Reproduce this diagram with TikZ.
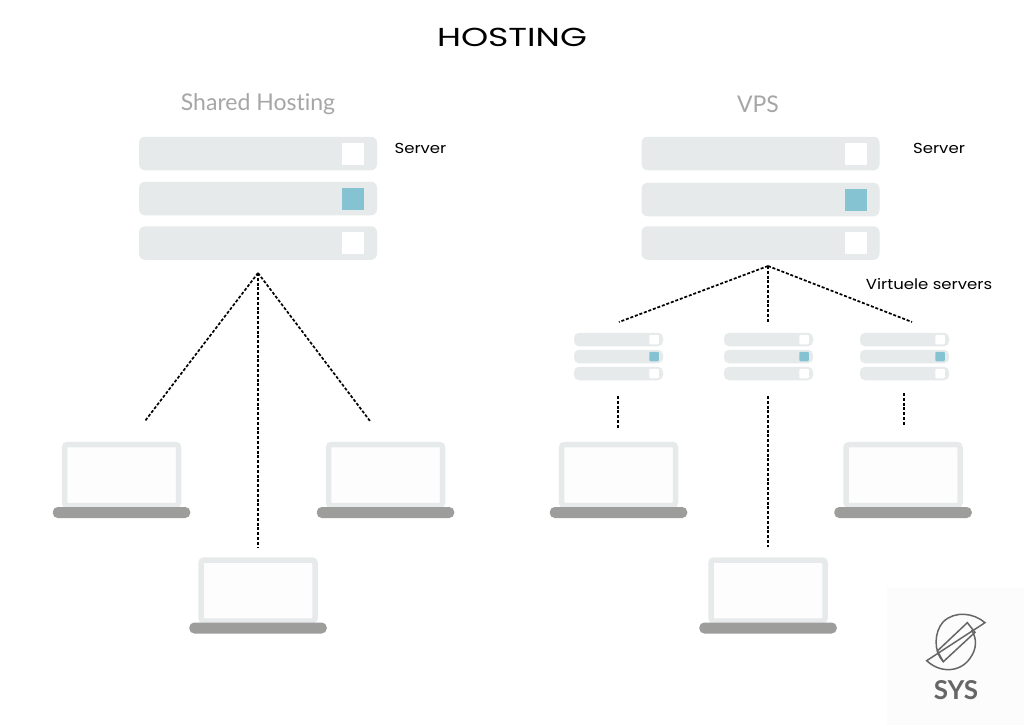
\documentclass[tikz,border=0pt]{standalone}
\usepackage{fontspec}
\setmainfont{Poppins}
\newfontfamily\latofont[Ligatures={NoCommon,NoContextual}]{Lato}
\newfontfamily\titlefont[FakeStretch=1.33]{Poppins}
\newfontfamily\labelfont[FakeStretch=1.14]{Poppins}
\definecolor{barc}{HTML}{E7EAEB}
\definecolor{ledc}{HTML}{85C3D3}
\definecolor{basec}{HTML}{9D9D9C}
\definecolor{headc}{HTML}{A6A6A6}
\definecolor{logoc}{HTML}{666666}
\definecolor{panelc}{HTML}{FCFCFC}
\definecolor{scrc}{HTML}{FDFDFD}
\tikzset{
 x=1pt,y=-1pt,
 bigbar/.style={fill=barc,draw=none,rounded corners=6pt,minimum width=238pt,minimum height=33.5pt,inner sep=0,outer sep=0,rectangle},
 bigled/.style={draw=none,minimum size=22pt,inner sep=0,outer sep=0,rectangle},
 minibar/.style={fill=barc,draw=none,rounded corners=5pt,minimum width=89pt,minimum height=13.5pt,inner sep=0,outer sep=0,rectangle},
 miniled/.style={draw=none,rounded corners=1pt,minimum size=9.5pt,inner sep=0,outer sep=0,rectangle},
 screen/.style={draw=barc,fill=scrc,line width=5.5pt,rounded corners=3pt,minimum width=114pt,minimum height=61pt,inner sep=0,outer sep=0,rectangle},
 kbd/.style={fill=basec,draw=none,rounded corners=5pt,minimum width=137.5pt,minimum height=11pt,inner sep=0,outer sep=0,rectangle},
 link/.style={draw=black,line width=1.7pt,dash pattern=on 3pt off 1.8pt},
 lbl/.style={inner sep=0,outer sep=0,text=black,font=\labelfont\fontsize{14.5}{16}\selectfont},
 head/.style={inner sep=0,outer sep=0,text=headc,font=\latofont\fontsize{23}{26}\selectfont},
}
\newcommand{\bigserver}[3]{%
 \node[bigbar] (#1a) at (#2,153.5) {};
 \node[bigbar] (#1b) at (#2,#3) {};
 \node[bigbar] (#1c) at (#2,243) {};
 \node[bigled,fill=white] (#1la) at ([xshift=-24pt]#1a.east) {};
 \node[bigled,fill=ledc] (#1lb) at ([xshift=-24pt]#1b.east) {};
 \node[bigled,fill=white] (#1lc) at ([xshift=-24pt]#1c.east) {};
}
\newcommand{\miniserver}[2]{%
 \node[minibar] (#1a) at (#2,339.5) {};
 \node[minibar] (#1b) at (#2,356.5) {};
 \node[minibar] (#1c) at (#2,373.5) {};
 \node[miniled,fill=white] (#1la) at ([xshift=-9pt]#1a.east) {};
 \node[miniled,fill=ledc] (#1lb) at ([xshift=-9pt]#1b.east) {};
 \node[miniled,fill=white] (#1lc) at ([xshift=-9pt]#1c.east) {};
}
\newcommand{\laptop}[3]{%
 \node[screen] (#1s) at (#2,#3) {};
 \node[kbd] (#1k) at (#2,#3+37.5) {};
}
\begin{document}
\begin{tikzpicture}
\useasboundingbox (0,0) rectangle (1024,725);
\fill[white] (0,0) rectangle (1024,725);

% headings
\node[inner sep=0,text=black,font=\titlefont\fontsize{26}{28}\selectfont] (title) at (512,37.5) {HOSTING};
\node[head] (shared) at (258,104.5) {Shared Hosting};
\node[head] (vps) at (758,104) {VPS};
\node[lbl] (srvl) at (420.5,148) {Server};
\node[lbl] (srvr) at (939,148) {Server};
\node[lbl] (virt) at (929,284) {Virtuele servers};

% servers
\bigserver{L}{258}{198.5}
\bigserver{R}{760.5}{199.5}
\miniserver{Ma}{618.5}
\miniserver{Mb}{768.5}
\miniserver{Mc}{904.5}

% laptops
\laptop{pa}{121.5}{475}
\laptop{pb}{385.5}{475}
\laptop{pc}{258}{590.5}
\laptop{pd}{618.5}{475}
\laptop{pe}{903}{475}
\laptop{pf}{768}{590.5}

% connector ends
\coordinate (lapex) at (258,273);
\coordinate (la) at (145,421);
\coordinate (lb) at (370,421);
\coordinate (lc) at (258,547);
\coordinate (rapex) at (768,266);
\coordinate (ra) at (619,322);
\coordinate (rb) at (768,322);
\coordinate (rc) at (912,322);
\coordinate (da1) at (618,396);
\coordinate (da2) at (618,429);
\coordinate (db1) at (768,396);
\coordinate (db2) at (768,547);
\coordinate (dc1) at (904,393);
\coordinate (dc2) at (904,426);

\draw[link] (lapex) -- (la);
\draw[link] (lapex) -- (lb);
\draw[link] (lapex) -- (lc);
\draw[link] (rapex) -- (ra);
\draw[link] (rapex) -- (rb);
\draw[link] (rapex) -- (rc);
\draw[link] (da1) -- (da2);
\draw[link] (db1) -- (db2);
\draw[link] (dc1) -- (dc2);

% logo panel
\fill[panelc] (887,588) rectangle (1024,725);
\begin{scope}[shift={(860,570)},x=0.3333pt,y=-0.3333pt,draw=logoc,line width=1.5pt,line join=miter]
 \draw (250,275) .. controls (220,245) and (222,185) .. (250,155) .. controls (285,122) and (340,128) .. (375,158) -- (200,272) .. controls (240,310) and (300,308) .. (330,265) .. controls (352,235) and (350,205) .. (335,180);
 \draw (322,158) -- (345,187) -- (250,275) -- (232,243) -- cycle;
\end{scope}
\node[inner sep=0,text=logoc,font=\latofont\bfseries\fontsize{26}{28}\selectfont] (sys) at (956,690) {SYS};
\end{tikzpicture}
\end{document}
